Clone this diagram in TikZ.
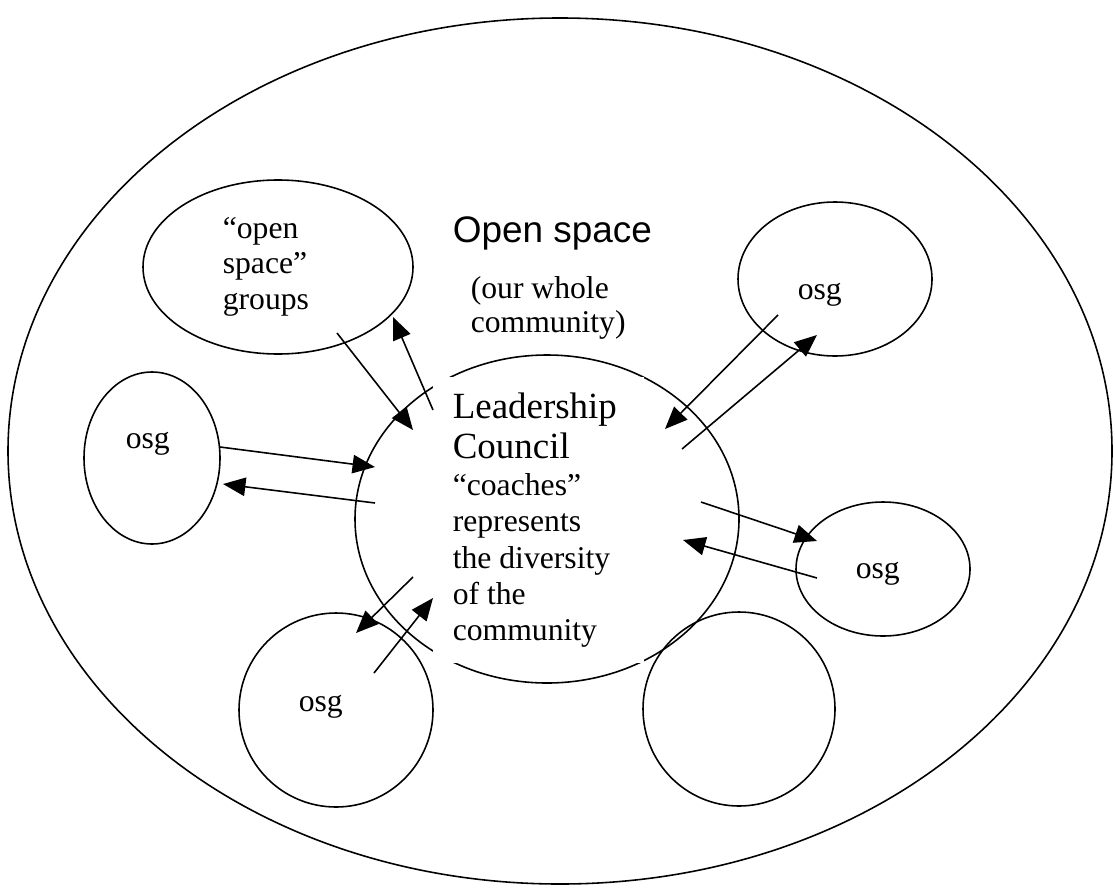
\documentclass[tikz,border=0pt]{standalone}
\usepackage{fontspec}
\setmainfont{Liberation Serif}
\newfontfamily\arialfont{Liberation Sans}
\usepackage{tikz}
\usetikzlibrary{arrows,arrows.meta,shapes}
\newcommand{\pxu}{0.379pt}

\begin{document}
\begin{tikzpicture}[
    x = 0.379pt,
    y = -0.379pt,
    line width = 0.6pt,
    >={Triangle[length=8.5pt, width=7pt]},
    bubble/.style = {
      draw,
      ellipse,
      inner sep = 0pt
    },
    tag/.style = {
      inner sep = 0pt,
      anchor = base west,
      font = \fontsize{12}{13.8}\selectfont
    }
  ]
  \useasboundingbox (0,0) rectangle (1115,893);

  % the whole community
  \node[bubble, minimum width=1104*\pxu, minimum height=866*\pxu] (whole) at (560,451) {};
  \node[tag, font=\arialfont\fontsize{14}{16}\selectfont] (ostitle) at (452,242) {Open space};
  \node[tag, text width=170*\pxu, align=flush left, font=\fontsize{12}{12.9}\selectfont] (ossub) at (470,298) {(our whole\\community)};

  % open space groups
  \node[bubble, minimum width=270*\pxu, minimum height=174*\pxu] (grp) at (278,267) {};
  \node[tag, text width=110*\pxu, align=flush left, font=\fontsize{12}{13.5}\selectfont] (grptext) at (222,238) {“open\\space”\\groups};
  \node[bubble, minimum width=136*\pxu, minimum height=172*\pxu] (osgl) at (152,458) {};
  \node[tag] (osgltext) at (125,448) {osg};
  \node[bubble, minimum width=194*\pxu, minimum height=154*\pxu] (osgtr) at (835,279) {};
  \node[tag] (osgtrtext) at (797,299) {osg};
  \node[bubble, minimum width=174*\pxu, minimum height=134*\pxu] (osgr) at (883,569) {};
  \node[tag] (osgrtext) at (855,578) {osg};
  \node[bubble, minimum width=194*\pxu, minimum height=194*\pxu] (osgbl) at (336,710) {};
  \node[tag] (osgbltext) at (298,711) {osg};
  \node[bubble, minimum width=192*\pxu, minimum height=194*\pxu] (blank) at (739,709) {};

  % leadership council
  \node[bubble, minimum width=384*\pxu, minimum height=328*\pxu] (lc) at (547,519) {};
  \node[tag, fill=white, inner xsep=20*\pxu, inner ysep=15*\pxu, text width=171*\pxu, align=flush left]
    (lctext) at (432,418)
    {\fontsize{14}{15.5}\selectfont Leadership\par Council\par
     \fontsize{12}{13.8}\selectfont “coaches”\par represents\par the diversity\par of the\par community};

  % arrow ends
  \coordinate (grpout) at (337,333);
  \coordinate (grpin) at (393,317);
  \coordinate (lcfromgrp) at (413,430);
  \coordinate (lctogrp) at (433,410);
  \coordinate (osglout) at (220,447);
  \coordinate (osglin) at (223,484);
  \coordinate (lcfromosgl) at (375,467);
  \coordinate (lctoosgl) at (375,503);
  \coordinate (osgtrout) at (778,315);
  \coordinate (osgtrin) at (817,335);
  \coordinate (lcfromosgtr) at (665,429);
  \coordinate (lctoosgtr) at (682,449);
  \coordinate (osgrout) at (817,578);
  \coordinate (osgrin) at (817,541);
  \coordinate (lcfromosgr) at (683,540);
  \coordinate (lctoosgr) at (701,502);
  \coordinate (osgblout) at (374,673);
  \coordinate (osgblin) at (356,633);
  \coordinate (lcfromosgbl) at (433,598);
  \coordinate (lctoosgbl) at (413,577);

  \draw[->] (grpout) -- (lcfromgrp);
  \draw[->] (lctogrp) -- (grpin);
  \draw[->] (osglout) -- (lcfromosgl);
  \draw[->] (lctoosgl) -- (osglin);
  \draw[->] (osgtrout) -- (lcfromosgtr);
  \draw[->] (lctoosgtr) -- (osgtrin);
  \draw[->] (lctoosgr) -- (osgrin);
  \draw[->] (osgrout) -- (lcfromosgr);
  \draw[->] (lctoosgbl) -- (osgblin);
  \draw[->] (osgblout) -- (lcfromosgbl);

\end{tikzpicture}
\end{document}
